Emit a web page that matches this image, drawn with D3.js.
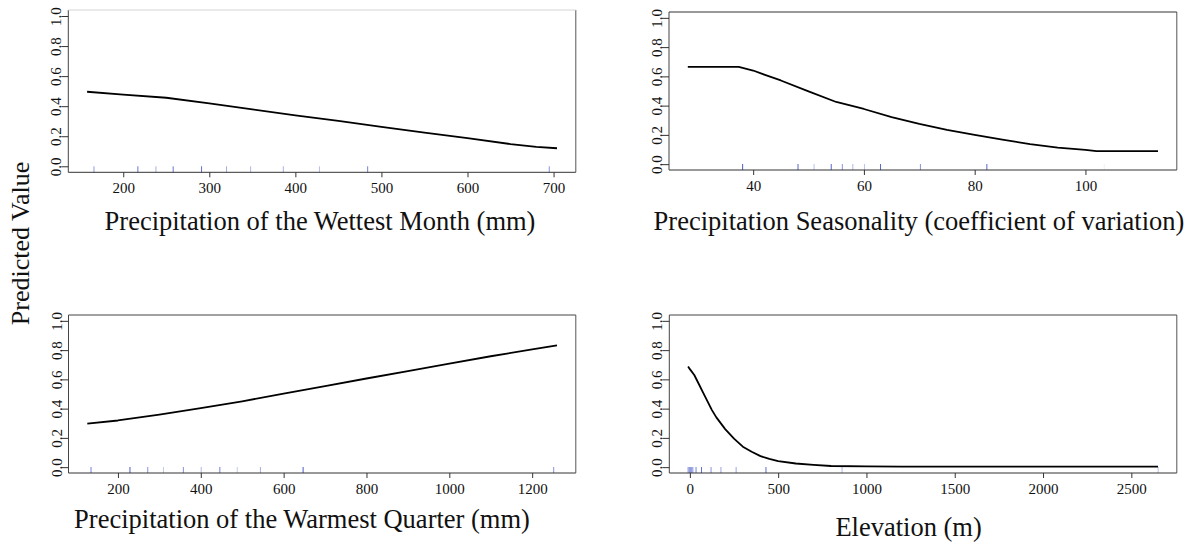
<!DOCTYPE html>
<html><head><meta charset="utf-8">
<script src="https://cdn.jsdelivr.net/npm/d3@7"></script>
<style>
html,body{margin:0;padding:0;background:#fff;}
svg{display:block;}
text{font-family:"Liberation Serif","Times New Roman",serif;fill:#111;}
</style></head>
<body>
<svg id="chart" width="1193" height="543"></svg>
<script>
// ---------- data ----------
const titles = [
  "Precipitation of the Wettest Month (mm)",
  "Precipitation Seasonality (coefficient of variation)",
  "Precipitation of the Warmest Quarter (mm)",
  "Elevation (m)"
];
const yAxisTitle = "Predicted Value";
const yTicks = [0, 0.2, 0.4, 0.6, 0.8, 1.0];
const yTickLabels = ["0.0", "0.2", "0.4", "0.6", "0.8", "1.0"];

const p1X = [158, 200, 250, 300, 350, 400, 450, 500, 550, 600, 650, 680, 704];
const p1Y = [0.496, 0.477, 0.456, 0.418, 0.379, 0.339, 0.302, 0.262, 0.224, 0.188, 0.148, 0.129, 0.120];
const p1Ticks = [200, 300, 400, 500, 600, 700];
const p1Rug = [166, 217, 238, 258, 291, 320, 348, 386, 428, 484, 695];
const p1RugShade = [0.55, 0.75, 0.45, 0.75, 0.8, 0.45, 0.4, 0.45, 0.35, 0.7, 0.6];

const p2X = [28.2, 37.4, 40, 42, 45, 50, 55, 60, 65, 70, 75, 80, 85, 90, 95, 100, 102, 113.1];
const p2Y = [0.665, 0.665, 0.64, 0.612, 0.572, 0.497, 0.425, 0.377, 0.322, 0.275, 0.235, 0.200, 0.167, 0.137, 0.113, 0.098, 0.089, 0.089];
const p2Ticks = [40, 60, 80, 100];
const p2Rug = [38.1, 48.1, 51.0, 54.1, 56.1, 58.0, 60.1, 63.0, 70.2, 82.2, 103.4];
const p2RugShade = [0.9, 0.85, 0.35, 0.85, 0.6, 0.4, 0.35, 0.85, 0.6, 0.85, 0.08];

const p3X = [126, 200, 300, 400, 500, 600, 700, 800, 900, 1000, 1100, 1200, 1260];
const p3Y = [0.297, 0.319, 0.359, 0.403, 0.450, 0.503, 0.554, 0.606, 0.657, 0.707, 0.758, 0.805, 0.833];
const p3Ticks = [200, 400, 600, 800, 1000, 1200];
const p3Rug = [135, 229, 272, 310, 358, 401, 446, 488, 544, 647, 1252];
const p3RugShade = [0.7, 0.9, 0.6, 0.3, 0.6, 0.4, 0.7, 0.3, 0.45, 0.9, 0.6];

const p4X = [-10, 0, 25, 50, 75, 100, 125, 150, 200, 250, 300, 350, 400, 450, 500, 600, 700, 800, 1000, 1200, 2651];
const p4Y = [0.688, 0.67, 0.63, 0.57, 0.51, 0.45, 0.39, 0.34, 0.26, 0.195, 0.14, 0.105, 0.075, 0.056, 0.041, 0.025, 0.016, 0.008, 0.005, 0.003, 0.003];
const p4Ticks = [0, 500, 1000, 1500, 2000, 2500];
const p4Rug = [-10, -3, 3, 10, 17, 35, 66, 120, 176, 262, 431, 862, 2652];
const p4RugShade = [0.6, 0.6, 0.6, 0.6, 0.6, 0.7, 0.8, 0.6, 0.5, 0.5, 0.8, 0.4, 0.35];

// ---------- layout ----------
const layout = [
  {left: 68.3, right: 575.8, top: 10,   bottom: 172.3, titleX: 320,   titleY: 230,   topColor: "#d4d4d4"},
  {left: 669,  right: 1176.8, top: 12,  bottom: 170,   titleX: 919,   titleY: 230,   topColor: "#333"},
  {left: 68.5, right: 575.8, top: 315,  bottom: 473,   titleX: 302,   titleY: 527.5, topColor: "#444"},
  {left: 669.3, right: 1176.8, top: 315, bottom: 473,  titleX: 908.6, titleY: 535.5, topColor: "#444"}
];
const panels = [
  {x: p1X, y: p1Y, ticks: p1Ticks, rug: p1Rug, shade: p1RugShade},
  {x: p2X, y: p2Y, ticks: p2Ticks, rug: p2Rug, shade: p2RugShade},
  {x: p3X, y: p3Y, ticks: p3Ticks, rug: p3Rug, shade: p3RugShade},
  {x: p4X, y: p4Y, ticks: p4Ticks, rug: p4Rug, shade: p4RugShade}
];

const FONT = '"Liberation Serif", "Times New Roman", serif';
const svg = d3.select("#chart");
const pad = ([a, b]) => [a - 0.04 * (b - a), b + 0.04 * (b - a)];

panels.forEach((p, i) => {
  const L = layout[i];
  const x = d3.scaleLinear().domain(pad(d3.extent(p.x))).range([L.left, L.right]);
  const y = d3.scaleLinear().domain(pad([0, 1])).range([L.bottom, L.top]);
  const g = svg.append("g");

  // rug
  g.selectAll("line.rug").data(p.rug.map((v, k) => ({v, s: p.shade[k]}))).join("line")
    .attr("class", "rug")
    .attr("x1", d => x(d.v)).attr("x2", d => x(d.v))
    .attr("y1", L.bottom).attr("y2", L.bottom - 6)
    .attr("stroke", "rgb(55,75,195)").attr("stroke-opacity", d => d.s).attr("stroke-width", 1);

  // curve
  const line = d3.line().x((d, k) => x(p.x[k])).y(d => y(d));
  g.append("path").datum(p.y).attr("d", line)
    .attr("fill", "none").attr("stroke", "#000").attr("stroke-width", 1.8)
    .attr("stroke-linejoin", "round");

  // box
  g.append("line").attr("x1", L.left).attr("x2", L.right).attr("y1", L.bottom).attr("y2", L.bottom).attr("stroke", "#333");
  g.append("line").attr("x1", L.left).attr("x2", L.left).attr("y1", L.top).attr("y2", L.bottom).attr("stroke", "#444");
  g.append("line").attr("x1", L.right).attr("x2", L.right).attr("y1", L.top).attr("y2", L.bottom).attr("stroke", "#555");
  g.append("line").attr("x1", L.left).attr("x2", L.right).attr("y1", L.top).attr("y2", L.top).attr("stroke", L.topColor);

  // x axis
  const xa = g.append("g").attr("transform", `translate(0,${L.bottom})`)
    .call(d3.axisBottom(x).tickValues(p.ticks).tickSize(5).tickPadding(4).tickFormat(d3.format("d")))
    .attr("font-family", FONT).attr("font-size", 15);
  xa.select(".domain").remove();
  xa.selectAll(".tick line").attr("stroke", "#333");
  xa.selectAll(".tick text").attr("y", 20.5).attr("dy", 0).attr("fill", "#222");

  // y axis
  const ya = g.append("g").attr("transform", `translate(${L.left},0)`)
    .call(d3.axisLeft(y).tickValues(yTicks).tickSize(7).tickFormat((d, k) => yTickLabels[k]))
    .attr("font-family", FONT).attr("font-size", 15);
  ya.select(".domain").remove();
  ya.selectAll(".tick line").attr("stroke", "#333");
  ya.selectAll(".tick text")
    .attr("x", null).attr("dy", null)
    .attr("text-anchor", "middle")
    .attr("transform", "translate(-7,0) rotate(-90)")
    .attr("fill", "#222");

  // title
  svg.append("text").attr("x", L.titleX).attr("y", L.titleY)
    .attr("text-anchor", "middle").style("font-size", "26.5px").text(titles[i]);
});

svg.append("text")
  .attr("transform", "translate(28.5,243.5) rotate(-90)")
  .attr("text-anchor", "middle").style("font-size", "26px").text(yAxisTitle);
</script>
</body></html>
